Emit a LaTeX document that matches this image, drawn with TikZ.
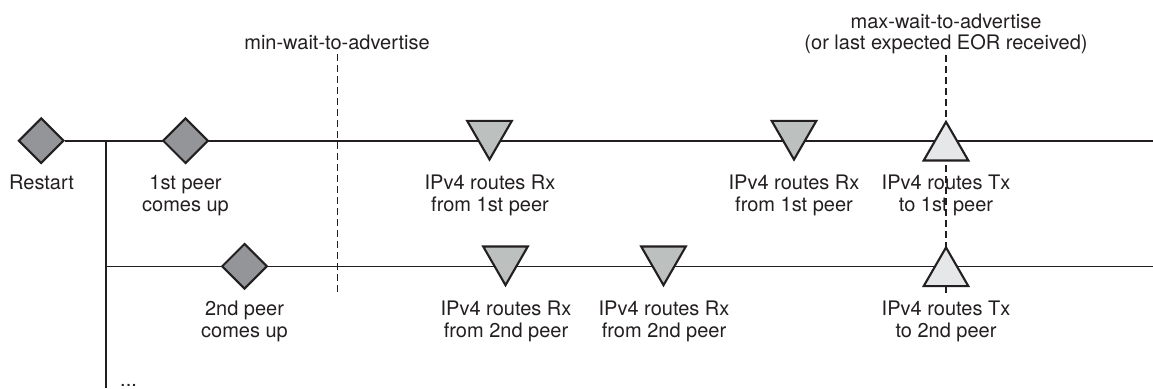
\documentclass[tikz,border=0pt]{standalone}
\usepackage{fontspec}
\setmainfont{TeX Gyre Heros}
\usetikzlibrary{shapes.geometric,backgrounds}
\definecolor{ink}{HTML}{231F20}
\definecolor{dfill}{HTML}{939598}
\definecolor{rxfill}{HTML}{BCC0BE}
\definecolor{txfill}{HTML}{E6E7E8}
\begin{document}
\begin{tikzpicture}[x=1pt,y=-1pt,
  evt/.style={diamond, draw=ink, fill=dfill, line width=2.1pt, minimum width=45.5pt, minimum height=45.5pt, inner sep=0pt},
  rx/.style={regular polygon, regular polygon sides=3, shape border rotate=180, draw=ink, fill=rxfill, line width=2.1pt, minimum size=51.5pt, inner sep=0pt},
  tx/.style={regular polygon, regular polygon sides=3, draw=ink, fill=txfill, line width=2.1pt, minimum size=51.5pt, inner sep=0pt},
  lbl/.style={anchor=north, inner sep=0pt, align=center, font=\fontsize{20}{21.7}\selectfont, text=ink},
  tline/.style={draw=ink, line width=1.6pt},
  dline/.style={draw=ink, line width=1.3pt, dash pattern=on 7pt off 4pt}
]
\useasboundingbox (0,0) rectangle (1153,388);

% coordinates
\coordinate (j1) at (106,140.7);
\coordinate (end1) at (1153,140.7);
\coordinate (j2) at (106,266.3);
\coordinate (end2) at (1153,266.3);
\coordinate (vbot) at (106,388);
\coordinate (mintop) at (337.3,54);
\coordinate (minbot) at (337.3,293);
\coordinate (maxtop) at (946,55);
\coordinate (maxbot) at (946,293);

% events line 1
\node[evt] (restart) at (41.2,140.7) {};
\node[evt] (p1up) at (185.5,140.7) {};
\node[rx] (rx11) at (489.5,133.8) {};
\node[rx] (rx12) at (794,133.8) {};
\node[tx] (tx1) at (946,147.6) {};

% events line 2
\node[evt] (p2up) at (244.5,266.3) {};
\node[rx] (rx21) at (505.5,259.4) {};
\node[rx] (rx22) at (663.5,259.4) {};
\node[tx] (tx2) at (946,273.2) {};

% labels
\node[lbl] (lrestart) at (41.5,175) {Restart};
\node[lbl] (lp1) at (185.5,175) {1st peer\\comes up};
\node[lbl] (lrx11) at (490,175) {IPv4 routes Rx\\from 1st peer};
\node[lbl] (lrx12) at (794,175) {IPv4 routes Rx\\from 1st peer};
\node[lbl] (ltx1) at (946,175) {IPv4 routes Tx\\to 1st peer};
\node[lbl] (lp2) at (244.5,301) {2nd peer\\comes up};
\node[lbl] (lrx21) at (506,301) {IPv4 routes Rx\\from 2nd peer};
\node[lbl] (lrx22) at (664,301) {IPv4 routes Rx\\from 2nd peer};
\node[lbl] (ltx2) at (946,301) {IPv4 routes Tx\\to 2nd peer};
\node[lbl] (lmin) at (337,35) {min-wait-to-advertise};
\node[lbl] (lmax) at (946,13.3) {max-wait-to-advertise\\(or last expected EOR received)};
\node[anchor=base west, inner sep=0pt, font=\fontsize{20}{22}\selectfont, text=ink] (dots) at (120,386.5) {...};

\begin{scope}[on background layer]
  \draw[tline] (restart.east) -- (end1);
  \draw[tline] (j1) -- (vbot);
  \draw[tline] (j2) -- (end2);
  \draw[dline] (mintop) -- (minbot);
  \draw[dline] (maxtop) -- (maxbot);
\end{scope}
\end{tikzpicture}
\end{document}
